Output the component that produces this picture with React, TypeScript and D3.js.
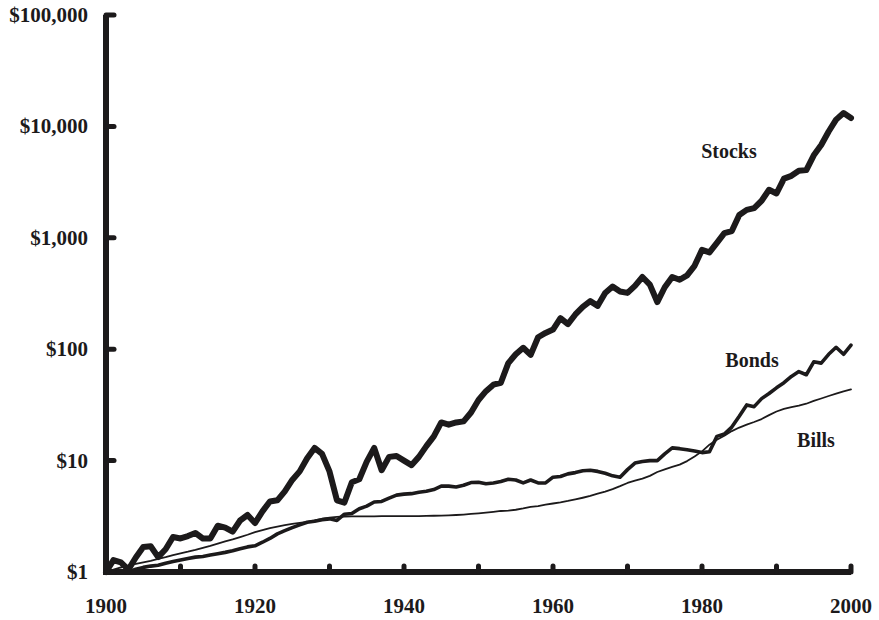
import React from "react";
import * as d3 from "d3";

const years: number[] = d3.range(1900, 2001);

const stocks: number[] = [
  1.0, 1.28, 1.22, 1.05, 1.35, 1.68, 1.7, 1.36, 1.6, 2.06,
  2.0, 2.1, 2.24, 2.0, 2.0, 2.6, 2.5, 2.3, 2.9, 3.25,
  2.75, 3.5, 4.3, 4.4, 5.3, 6.7, 8.0, 10.5, 13.0, 11.5,
  8.0, 4.4, 4.2, 6.4, 6.8, 9.8, 13.0, 8.2, 10.8, 11.0,
  10.0, 9.1, 10.8, 13.5, 16.5, 22.0, 21.0, 22.0, 22.5, 27,
  35, 42, 48, 50, 75, 90, 103, 89, 128, 140,
  150, 190, 168, 205, 240, 270, 245, 320, 365, 330,
  320, 370, 445, 380, 265, 360, 445, 420, 460, 560,
  780, 740, 900, 1100, 1150, 1600, 1780, 1850, 2150, 2700,
  2500, 3400, 3600, 4000, 4050, 5500, 6800, 9000, 11500, 13200,
  11900,
];

const bonds: number[] = [
  1.0, 1.02, 1.03, 1.0, 1.06, 1.1, 1.13, 1.15, 1.2, 1.24,
  1.28, 1.32, 1.36, 1.38, 1.42, 1.46, 1.5, 1.55, 1.62, 1.68,
  1.72, 1.85, 2.0, 2.2, 2.35, 2.5, 2.65, 2.8, 2.85, 2.95,
  3.0, 2.9, 3.3, 3.35, 3.7, 3.9, 4.25, 4.3, 4.6, 4.9,
  5.0, 5.05, 5.2, 5.3, 5.5, 5.9, 5.9, 5.8, 6.0, 6.35,
  6.4, 6.2, 6.3, 6.5, 6.8, 6.7, 6.3, 6.7, 6.3, 6.3,
  7.1, 7.2, 7.6, 7.8, 8.1, 8.2, 8.0, 7.7, 7.3, 7.1,
  8.3, 9.5, 9.8, 10.0, 10.0, 11.5, 13.0, 12.8, 12.5, 12.2,
  11.8, 12.0, 16.5, 17.3, 20.0, 25.0, 31.6, 30.5, 36, 40,
  45, 50, 57, 63, 59, 77, 75, 90, 104, 90,
  109,
];

const bills: number[] = [
  1.0, 1.05, 1.1, 1.14, 1.18, 1.22, 1.26, 1.31, 1.36, 1.42,
  1.47, 1.52, 1.58, 1.65, 1.72, 1.8, 1.88, 1.96, 2.06, 2.16,
  2.28, 2.38, 2.48, 2.56, 2.64, 2.7, 2.76, 2.82, 2.9, 3.0,
  3.07, 3.12, 3.15, 3.16, 3.16, 3.16, 3.16, 3.17, 3.17, 3.17,
  3.17, 3.17, 3.18, 3.19, 3.2, 3.21, 3.23, 3.25, 3.28, 3.32,
  3.36, 3.41, 3.47, 3.53, 3.56, 3.62, 3.72, 3.84, 3.9, 4.02,
  4.12, 4.22, 4.34, 4.48, 4.64, 4.82, 5.05, 5.27, 5.55, 5.9,
  6.3, 6.6, 6.9, 7.3, 7.9, 8.35, 8.77, 9.2, 9.9, 10.9,
  12.1, 13.9, 15.4, 16.7, 18.4, 19.8, 21.0, 22.2, 23.6, 25.6,
  27.6, 29.1, 30.2, 31.1, 32.4, 34.3, 36.1, 38.0, 39.9, 41.8,
  43.5,
];

const yTicks: number[] = [1, 10, 100, 1000, 10000, 100000];
const yTickLabels: string[] = ["$1", "$10", "$100", "$1,000", "$10,000", "$100,000"];
const xTicks: number[] = [1910, 1920, 1930, 1940, 1950, 1960, 1970, 1980, 1990, 2000];
const xLabels: number[] = [1900, 1920, 1940, 1960, 1980, 2000];

const seriesNames: string[] = ["Stocks", "Bonds", "Bills"];
const seriesValues: number[][] = [stocks, bonds, bills];
const seriesWidths: number[] = [6, 3.6, 1.8];
const labelPos: [number, number][] = [[729, 151], [752, 360], [816, 440]];

const INK = "#1c1a1b";
const FONT = "'Liberation Serif', 'Times New Roman', serif";

export default function App() {
  const x = d3.scaleLinear().domain([1900, 2000]).range([106, 851]);
  const y = d3.scaleLog().domain([1, 100000]).range([572, 15]);

  const line = d3
    .line<number>()
    .x((_, i) => x(years[i]))
    .y((v) => y(v))
    .curve(d3.curveLinear);

  return (
    <svg
      width={879}
      height={620}
      style={{ position: "absolute", left: 0, top: 0, background: "#fff" }}
    >
      {seriesValues.map((vals, k) => (
        <path
          key={seriesNames[k]}
          d={line(vals) || ""}
          fill="none"
          stroke={INK}
          strokeWidth={seriesWidths[k]}
          strokeLinejoin="round"
          strokeLinecap="round"
        />
      ))}

      {/* axes */}
      <path
        d={`M${x(1900)},${y(100000)} V${y(1)} H${x(2000)}`}
        fill="none"
        stroke={INK}
        strokeWidth={6}
        strokeLinejoin="miter"
      />
      {yTicks.map((t) => (
        <line
          key={"yt" + t}
          x1={x(1900)}
          x2={x(1900) + 8}
          y1={y(t)}
          y2={y(t)}
          stroke={INK}
          strokeWidth={5}
          strokeLinecap="round"
        />
      ))}
      {xTicks.map((t) => (
        <line
          key={"xt" + t}
          x1={x(t)}
          x2={x(t)}
          y1={y(1)}
          y2={y(1) - 6}
          stroke={INK}
          strokeWidth={5}
          strokeLinecap="round"
        />
      ))}

      {yTicks.map((t, i) => (
        <text
          key={"yl" + t}
          x={88}
          y={y(t) + 7}
          textAnchor="end"
          fontFamily={FONT}
          fontWeight="bold"
          fontSize={21}
          fill={INK}
        >
          {yTickLabels[i]}
        </text>
      ))}
      {xLabels.map((t) => (
        <text
          key={"xl" + t}
          x={x(t)}
          y={613}
          textAnchor="middle"
          fontFamily={FONT}
          fontWeight="bold"
          fontSize={21}
          fill={INK}
        >
          {t}
        </text>
      ))}

      {seriesNames.map((n, k) => (
        <text
          key={"sl" + n}
          x={labelPos[k][0]}
          y={labelPos[k][1] + 7}
          textAnchor="middle"
          fontFamily={FONT}
          fontWeight="bold"
          fontSize={20}
          fill={INK}
        >
          {n}
        </text>
      ))}
    </svg>
  );
}
